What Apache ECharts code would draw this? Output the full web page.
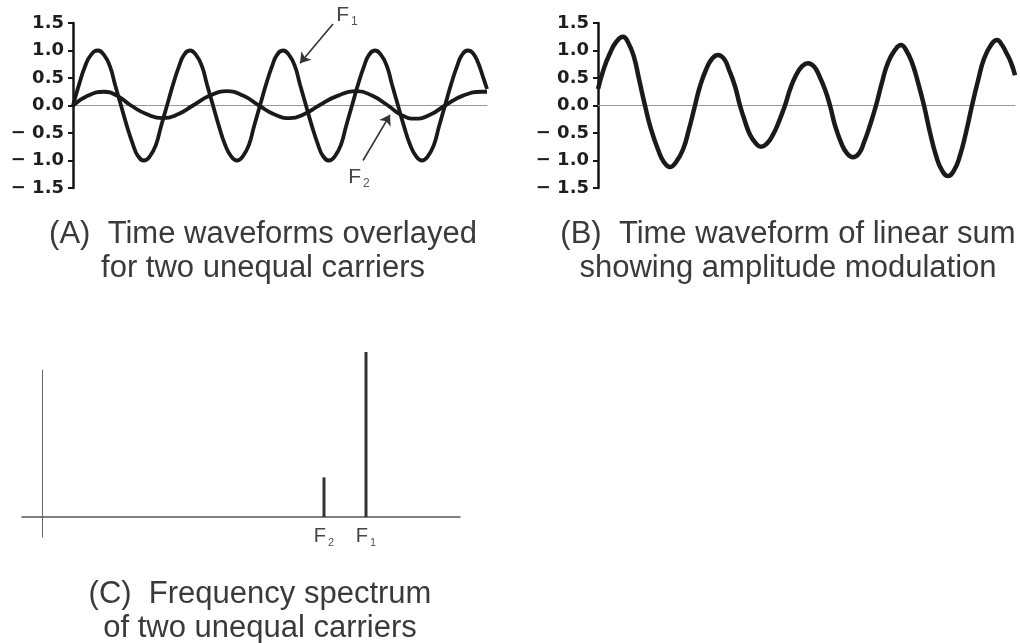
<!DOCTYPE html>
<html><head><meta charset="utf-8">
<script src="https://cdn.jsdelivr.net/npm/echarts@6/dist/echarts.min.js"></script>
<style>html,body{margin:0;padding:0;background:#fff}#c{width:1020px;height:643px}</style>
</head><body><div id="c"></div>
<script>
// ---- data ----
const yTickValues = [-1.5, -1.0, -0.5, 0.0, 0.5, 1.0, 1.5];
const yTickLabels = ['− 1.5', '− 1.0', '− 0.5', '0.0', '0.5', '1.0', '1.5'];

// Panel A: carrier F1 (amplitude 1)
const aTimeF1 = [0, 6, 12, 18, 25, 31, 37, 42, 48, 54, 60, 65, 71, 77, 83, 88, 94, 100, 106, 111, 117, 123, 129, 134,
  140, 146, 152, 158, 164, 170, 176, 181, 187, 193, 199, 204, 210, 216, 222, 227, 233, 239, 245, 250, 256, 262, 268, 273,
  279, 285, 291, 296, 302, 308, 314, 319, 325, 331, 337, 343, 349, 355, 361, 366, 372, 378, 384, 389, 395, 400, 405, 410, 414];
const aF1 = [0, .38, .71, .92, 1, .92, .71, .38, 0, -.38, -.71, -.92, -1, -.92, -.71, -.38, 0, .38, .71, .92, 1, .92, .71, .38,
  0, -.38, -.71, -.92, -1, -.92, -.71, -.38, 0, .38, .71, .92, 1, .92, .71, .38, 0, -.38, -.71, -.92, -1, -.92, -.71, -.38,
  0, .38, .71, .92, 1, .92, .71, .38, 0, -.38, -.71, -.92, -1, -.92, -.71, -.38, 0, .38, .71, .92, 1, .95, .78, .52, .3];
// Panel A: carrier F2 (amplitude 0.25)
const aTimeF2 = [0, 15, 31, 44, 58, 74, 90, 105, 120, 137, 154, 170, 186, 201, 217, 231, 246, 265, 284, 299, 315, 328, 342, 357, 372, 390, 409, 414];
const aF2     = [0, .18, .25, .18, 0, -.16, -.23, -.16, 0, .18, .26, .18, 0, -.16, -.23, -.16, 0, .18, .26, .18, 0, -.17, -.24, -.17, 0, .18, .25, .25];

// Panel B: linear sum
const bTime = [0, 6, 12, 18, 25, 30, 36, 41, 47, 53, 60, 66, 72, 78, 85, 91, 97, 102, 108, 114, 120, 126, 131, 137,
  142, 147, 152, 158, 163, 169, 175, 181, 187, 192, 198, 204, 210, 216, 221, 227, 232, 237, 243, 249, 255, 261, 266, 272,
  278, 284, 290, 297, 303, 308, 314, 320, 326, 332, 338, 344, 350, 356, 362, 368, 374, 380, 386, 393, 399, 404, 408, 413, 417];
const bSum = [.3, .68, .95, 1.15, 1.25, 1.15, .88, .48, 0, -.43, -.8, -1.03, -1.12, -1.03, -.8, -.43, 0, .35, .65, .85, .92, .85, .65, .35,
  0, -.29, -.53, -.69, -.75, -.69, -.53, -.29, 0, .29, .55, .71, .77, .71, .55, .29, 0, -.36, -.67, -.87, -.94, -.87, -.67, -.36,
  0, .42, .78, 1.01, 1.1, 1.01, .78, .42, 0, -.49, -.91, -1.18, -1.28, -1.18, -.91, -.49, 0, .45, .85, 1.1, 1.19, 1.1, .97, .78, .55];

// Panel C: spectrum lines
const cFreq = [282, 324];
const cAmp = [0.24, 1.0];
const cSub = ['2', '1'];

// Captions
const capA = '(A)  Time waveforms overlayed\nfor two unequal carriers';
const capB = '(B)  Time waveform of linear sum\nshowing amplitude modulation';
const capC = '(C)  Frequency spectrum\nof two unequal carriers';

const zip = (xs, ys) => xs.map((x, i) => [x, ys[i]]);

const chart = echarts.init(document.getElementById('c'), null, {renderer: 'canvas'});

const fRich = {
  F: {fontSize: 21, color: '#444', fontFamily: 'Liberation Sans'},
  s: {fontSize: 12, color: '#555', fontFamily: 'Liberation Sans', padding: [14, 0, 0, 2]}
};

const waveY = (idx) => ({
  type: 'value', gridIndex: idx, min: -1.5, max: 1.5, interval: 0.5,
  axisLine: {show: true, onZero: false, lineStyle: {color: '#151515', width: 2.5}},
  axisTick: {show: true, length: 5, lineStyle: {color: '#151515', width: 2}},
  splitLine: {show: false},
  axisLabel: {
    margin: 9, color: '#1e1e1e', fontFamily: 'DejaVu Sans', fontWeight: 'bold', fontSize: 18,
    formatter: v => yTickLabels[yTickValues.findIndex(t => Math.abs(t - v) < 1e-6)]
  }
});
const waveX = (idx, max) => ({
  type: 'value', gridIndex: idx, min: 0, max: max,
  axisLine: {show: true, onZero: true, lineStyle: {color: '#999', width: 1.2}},
  axisTick: {show: false}, axisLabel: {show: false}, splitLine: {show: false}
});

const waveLine = {smooth: 0.3, showSymbol: false, symbol: 'none', clip: false};

const option = {
  backgroundColor: '#ffffff',
  animation: false,
  grid: [
    {left: 73, top: 23, width: 414, height: 165},
    {left: 598, top: 23, width: 417, height: 165},
    {left: 22, top: 370, width: 438, height: 167}
  ],
  xAxis: [
    waveX(0, 414),
    waveX(1, 417),
    {type: 'value', gridIndex: 2, min: -20, max: 418,
     axisLine: {show: true, onZero: true, lineStyle: {color: '#555', width: 1.5}},
     axisTick: {show: false}, axisLabel: {show: false}, splitLine: {show: false}}
  ],
  yAxis: [
    waveY(0),
    waveY(1),
    {type: 'value', gridIndex: 2, min: -20 / 165, max: 147 / 165,
     axisLine: {show: true, onZero: true, lineStyle: {color: '#666', width: 1}},
     axisTick: {show: false}, axisLabel: {show: false}, splitLine: {show: false}}
  ],
  series: [
    Object.assign({
      type: 'line', xAxisIndex: 0, yAxisIndex: 0, data: zip(aTimeF1, aF1),
      lineStyle: {color: '#1a1a1a', width: 3.8},
      markLine: {
        silent: true, symbol: ['none', 'arrow'], symbolSize: 10,
        lineStyle: {color: '#333', width: 1.6, type: 'solid'},
        label: {show: false},
        data: [[{coord: [260, 1.48]}, {coord: [227, 0.77]}]]
      },
      markPoint: {
        silent: true, symbol: 'circle', symbolSize: 0, itemStyle: {color: 'rgba(0,0,0,0)'},
        label: {show: true, position: 'inside', offset: [0, -8], formatter: '{F|F}{s|1}', rich: fRich},
        data: [{coord: [274, 1.5]}]
      }
    }, waveLine, {smooth: 0.5}),
    Object.assign({
      type: 'line', xAxisIndex: 0, yAxisIndex: 0, data: zip(aTimeF2, aF2),
      lineStyle: {color: '#1a1a1a', width: 3.8},
      markLine: {
        silent: true, symbol: ['none', 'arrow'], symbolSize: 10,
        lineStyle: {color: '#333', width: 1.6, type: 'solid'},
        label: {show: false},
        data: [[{coord: [290, -1.0]}, {coord: [317, -0.17]}]]
      },
      markPoint: {
        silent: true, symbol: 'circle', symbolSize: 0, itemStyle: {color: 'rgba(0,0,0,0)'},
        label: {show: true, position: 'inside', formatter: '{F|F}{s|2}', rich: fRich},
        data: [{coord: [286, -1.3]}]
      }
    }, waveLine, {smooth: 0.5}),
    Object.assign({
      type: 'line', xAxisIndex: 1, yAxisIndex: 1, data: zip(bTime, bSum),
      lineStyle: {color: '#1a1a1a', width: 4.5}
    }, waveLine, {smooth: 0.5}),
    {
      type: 'bar', xAxisIndex: 2, yAxisIndex: 2, barWidth: 3, clip: false,
      itemStyle: {color: '#333'},
      data: cFreq.map((f, i) => ({
        value: [f, cAmp[i]],
        label: {show: true, position: 'bottom', distance: 7,
                formatter: '{F|F}{s|' + cSub[i] + '}',
                rich: {F: {fontSize: 20, color: '#444', fontFamily: 'Liberation Sans'},
                       s: {fontSize: 11, color: '#555', fontFamily: 'Liberation Sans', padding: [13, 0, 0, 2]}}}
      }))
    }
  ],
  graphic: [
    {type: 'text', x: 263, y: 251, style: {text: capA, textAlign: 'center', textVerticalAlign: 'middle',
      fontFamily: 'Liberation Sans', fontSize: 31, lineHeight: 34, fill: '#3a3a3a'}},
    {type: 'text', x: 788, y: 251, style: {text: capB, textAlign: 'center', textVerticalAlign: 'middle',
      fontFamily: 'Liberation Sans', fontSize: 31, lineHeight: 34, fill: '#3a3a3a'}},
    {type: 'text', x: 260, y: 611, style: {text: capC, textAlign: 'center', textVerticalAlign: 'middle',
      fontFamily: 'Liberation Sans', fontSize: 31, lineHeight: 34, fill: '#3a3a3a'}}
  ]
};
chart.setOption(option);
</script></body></html>
